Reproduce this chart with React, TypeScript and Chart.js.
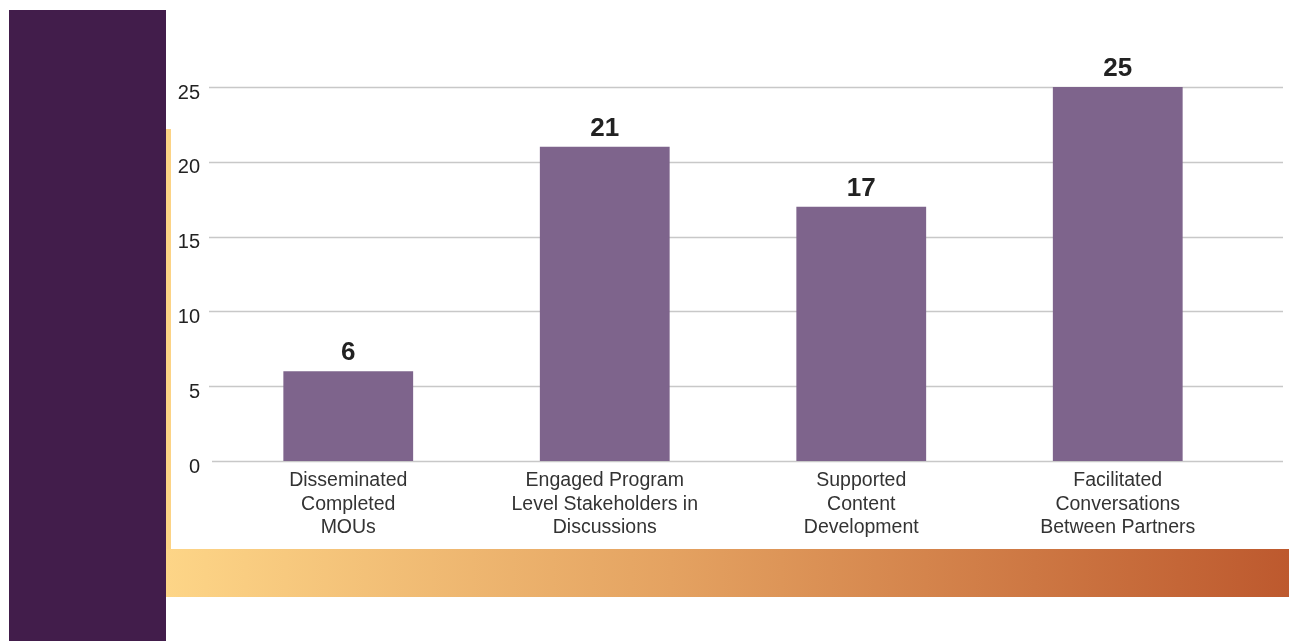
import React, { useEffect, useRef } from "react";
import { Chart, registerables } from "chart.js";

Chart.register(...registerables);

const categories: string[][] = [
  ["Disseminated", "Completed", "MOUs"],
  ["Engaged Program", "Level Stakeholders in", "Discussions"],
  ["Supported", "Content", "Development"],
  ["Facilitated", "Conversations", "Between Partners"],
];
const values: number[] = [6, 21, 17, 25];
const yTicks: number[] = [0, 5, 10, 15, 20, 25];

const BAR_COLOR = "#7E648C";
const DARK_PURPLE = "#421D4B";
const FONT = "'Liberation Sans', Arial, Helvetica, sans-serif";

const decorPlugin = {
  id: "decor",
  beforeDraw(chart: any) {
    const { ctx, width, height } = chart;
    ctx.save();
    ctx.fillStyle = "#ffffff";
    ctx.fillRect(0, 0, width, height);
    // left dark band
    ctx.fillStyle = DARK_PURPLE;
    ctx.fillRect(9, 10, 157, height - 10);
    // yellow strip
    ctx.fillStyle = "#FCD385";
    ctx.fillRect(166, 129, 5, 420);
    // gradient bar
    const g = ctx.createLinearGradient(166, 0, width, 0);
    g.addColorStop(0, "#FDD587");
    g.addColorStop(0.45, "#E4A261");
    g.addColorStop(1, "#BD592E");
    ctx.fillStyle = g;
    ctx.fillRect(166, 549, width - 166, 48);
    // grid lines
    const y = chart.scales.y;
    ctx.strokeStyle = "#C8C8C8";
    ctx.lineWidth = 1.3;
    y.ticks.forEach((t: any) => {
      const py = Math.round(y.getPixelForValue(t.value)) + 0.5;
      ctx.beginPath();
      ctx.moveTo(t.value === 0 ? 212 : 209, py);
      ctx.lineTo(1283, py);
      ctx.stroke();
    });
    ctx.restore();
  },
  afterDatasetsDraw(chart: any) {
    const { ctx } = chart;
    const meta = chart.getDatasetMeta(0);
    ctx.save();
    ctx.fillStyle = "#222222";
    ctx.font = `bold 26px ${FONT}`;
    ctx.textAlign = "center";
    ctx.textBaseline = "alphabetic";
    meta.data.forEach((el: any, i: number) => {
      ctx.fillText(String(values[i]), el.x, el.y - 11);
    });
    ctx.restore();
  },
};

export default function App() {
  const ref = useRef<HTMLCanvasElement>(null);
  useEffect(() => {
    document.body.style.margin = "0";
    const chart = new Chart(ref.current!, {
      type: "bar",
      data: {
        labels: categories,
        datasets: [
          {
            data: values,
            backgroundColor: BAR_COLOR,
            categoryPercentage: 1,
            barPercentage: 0.506,
          },
        ],
      },
      options: {
        animation: false,
        responsive: false,
        layout: { padding: { left: 150, right: 43, top: 87, bottom: 80 } },
        plugins: { legend: { display: false }, tooltip: { enabled: false } },
        scales: {
          x: {
            grid: { display: false },
            border: { display: false },
            ticks: {
              color: "#333333",
              font: { family: FONT, size: 19.5, lineHeight: 1.21 },
              padding: 0,
              maxRotation: 0,
              autoSkip: false,
            },
            afterFit(s: any) {
              s.height = 100;
            },
          },
          y: {
            min: 0,
            max: 25,
            afterBuildTicks(s: any) {
              s.ticks = yTicks.map((v) => ({ value: v }));
            },
            grid: { display: false },
            border: { display: false },
            ticks: {
              color: "#222222",
              font: { family: FONT, size: 20 },
              padding: 12,
              labelOffset: 6,
            },
            afterFit(s: any) {
              s.width = 70;
            },
          },
        },
      },
      plugins: [decorPlugin],
    });
    return () => chart.destroy();
  }, []);
  return <canvas ref={ref} width={1289} height={641} style={{ display: "block" }} />;
}
